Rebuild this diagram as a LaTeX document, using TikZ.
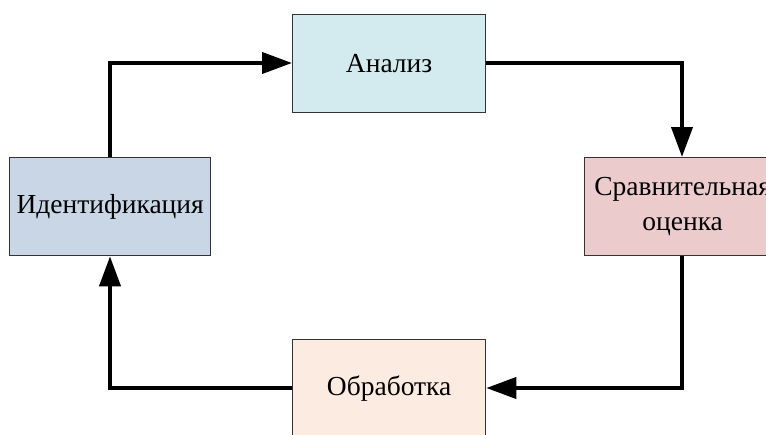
\documentclass[tikz,border=0pt]{standalone}
\usepackage{fontspec}
\setmainfont{Liberation Serif}
\usetikzlibrary{arrows.meta}
\definecolor{cAn}{HTML}{D3EAEE}
\definecolor{cId}{HTML}{C9D6E6}
\definecolor{cSr}{HTML}{EBCBCB}
\definecolor{cOb}{HTML}{FCEBE0}
\definecolor{cBd}{HTML}{333333}
\begin{document}
\begin{tikzpicture}[x=1pt,y=-1pt,
  box/.style={draw=cBd,line width=1.3pt,minimum width=193pt,minimum height=98pt,inner sep=0pt,font=\fontsize{27.5}{35}\selectfont,align=center,anchor=north west},
  conn/.style={line width=4pt,line join=miter,-{Triangle[length=30pt,width=21pt]}}]
\useasboundingbox (0,0) rectangle (766,434);
\clip (0,0) rectangle (766,434);
\node[box,fill=cAn] (an) at (292,14) {Анализ};
\node[box,fill=cId,minimum width=201pt] (id) at (9,157) {Идентификация};
\node[box,fill=cSr,minimum width=196pt] (sr) at (584,157) {Сравнительная\\оценка};
\node[box,fill=cOb] (ob) at (292,339) {Обработка};
\coordinate (c1) at (110,63);
\coordinate (c2) at (682,63);
\coordinate (c3) at (682,388);
\coordinate (c4) at (110,388);
\draw[conn] (id.north -| c1) -- (c1) -- (an.west |- c1);
\draw[conn] (an.east |- c2) -- (c2) -- (sr.north -| c2);
\draw[conn] (sr.south -| c3) -- (c3) -- (ob.east |- c3);
\draw[conn] (ob.west |- c4) -- (c4) -- (id.south -| c4);
\end{tikzpicture}
\end{document}
